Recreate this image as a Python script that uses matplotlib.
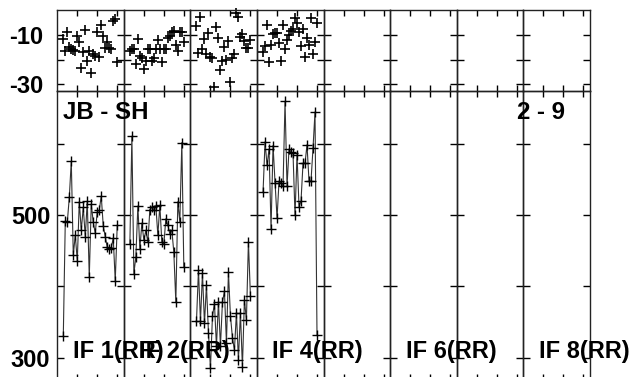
import matplotlib
matplotlib.use("Agg")
import matplotlib.pyplot as plt
import numpy as np

plt.rcParams['font.family'] = ['Liberation Sans', 'DejaVu Sans']

# ---- data ----
channels = list(range(3, 31))  # 28 channels per IF
if_labels = ["IF 1(RR)", "IF 2(RR)", "", "IF 4(RR)", "", "IF 6(RR)", "", "IF 8(RR)"]
baseline_label = "JB - SH"
time_label = "2 - 9"

phase_if1 = [-11.6, -16.4, -8.9, -14.8, -15.8, -16.2, -16.4, -10.3, -13.0, -23.3,
             -17.1, -7.9, -20.5, -16.4, -25.3, -17.8, -18.5, -8.9, -18.9, -5.8,
             -10.3, -15.1, -13.0, -15.1, -15.8, -4.4, -3.4, -21.2]
phase_if2 = [-16.4, -15.8, -15.8, -21.9, -11.6, -18.5, -19.5, -23.7, -20.5, -15.8,
             -15.8, -20.5, -19.2, -15.8, -12.0, -15.8, -21.2, -15.8, -15.8, -11.2,
             -10.3, -8.9, -8.5, -14.0, -16.4, -8.9, -8.9, -13.0]
phase_if3 = [-6.2, -17.5, -2.5, -15.8, -11.6, -17.8, -9.3, -18.9, -19.2, -31.2,
             -6.8, -11.2, -24.4, -20.5, -14.8, -20.3, -12.3, -29.0, -19.2, -17.8,
             -1.1, -2.5, -10.7, -9.6, -12.3, -15.1, -15.1, -12.0]
phase_if4 = [-17.1, -14.4, -5.8, -21.2, -14.0, -9.6, -9.3, -9.3, -13.4, -20.5,
             -5.8, -15.8, -12.0, -9.9, -8.5, -7.5, -3.0, -5.2, -8.9, -14.4,
             -7.5, -18.9, -11.2, -14.0, -3.0, -17.8, -13.0, -5.2]

amp_if1 = [330, 492, 490, 525, 576, 444, 472, 436, 519, 479,
           511, 470, 520, 413, 516, 490, 475, 505, 507, 527,
           485, 470, 455, 453, 454, 468, 408, 486]
amp_if2 = [460, 611, 418, 442, 513, 453, 489, 465, 479, 462,
           508, 511, 508, 513, 472, 514, 462, 459, 495, 486,
           474, 479, 448, 378, 519, 491, 602, 427]
amp_if3 = [351, 423, 351, 419, 348, 402, 335, 285, 358, 376,
           316, 378, 316, 378, 393, 321, 420, 359, 328, 311,
           363, 297, 363, 287, 381, 353, 463, 387]
amp_if4 = [533, 603, 570, 593, 481, 598, 546, 496, 548, 545,
           541, 660, 541, 593, 589, 587, 500, 585, 512, 520,
           573, 573, 599, 548, 548, 594, 645, 332]

phases = [phase_if1, phase_if2, phase_if3, phase_if4, None, None, None, None]
amps = [amp_if1, amp_if2, amp_if3, amp_if4, None, None, None, None]

phase_ticks = [-30, -20, -10]
phase_ticklabels = ["-30", "", "-10"]
amp_ticks = [300, 400, 500, 600]
amp_ticklabels = ["300", "", "500", ""]
x_ticks = [10, 20, 30]

# ---- layout (pixels) ----
W, H = 634, 377
fig = plt.figure(figsize=(W / 100, H / 100), dpi=100)
left_px, right_px = 57.3, 590.0
top_px, mid_px, bot_px = 10.0, 90.7, 380.0
ncol = 8
colw = (right_px - left_px) / ncol

def fx(px):
    return px / W

def fy(py):
    return (H - py) / H

for i in range(ncol):
    x0 = left_px + i * colw
    axt = fig.add_axes([fx(x0), fy(mid_px), colw / W, (mid_px - top_px) / H])
    axb = fig.add_axes([fx(x0), fy(bot_px), colw / W, (bot_px - mid_px) / H])
    for ax in (axt, axb):
        ax.set_xlim(0, 33.33)
        ax.set_xticks(x_ticks)
        ax.set_xticklabels([])
        ax.tick_params(direction='in', top=True, right=True, length=4,
                       width=1, colors='black')
        for s in ax.spines.values():
            s.set_linewidth(1.0)
            s.set_color('#222222')
    axt.set_ylim(-32.7, 0.2)
    axb.set_ylim(268.6, 675)
    axt.set_yticks(phase_ticks)
    axb.set_yticks(amp_ticks)
    axt.tick_params(axis='y', length=5)
    axb.tick_params(axis='y', length=5)
    if i == 0:
        axt.set_yticklabels(phase_ticklabels, fontsize=17, fontweight='bold')
        axb.set_yticklabels(amp_ticklabels, fontsize=17, fontweight='bold')
        axt.tick_params(axis='y', pad=10)
        axb.tick_params(axis='y', pad=5)
    else:
        axt.set_yticklabels([])
        axb.set_yticklabels([])
    if phases[i] is not None:
        axt.plot(channels, phases[i], linestyle='none', marker='+',
                 markersize=7.5, markeredgewidth=1.2, color='black', clip_on=False)
    if amps[i] is not None:
        axb.plot(channels, amps[i], color='#333333', linewidth=0.8,
                 marker='+', markersize=7, markeredgewidth=1.0,
                 markeredgecolor='black')
    axt.patch.set_alpha(0)
    axb.patch.set_alpha(0)

# texts
fig.text(fx(63), fy(119.3), baseline_label, fontsize=17.3, fontweight='bold',
         va='baseline', ha='left')
fig.text(fx(516.7), fy(119.3), time_label, fontsize=17.3, fontweight='bold',
         va='baseline', ha='left')
for i, lab in enumerate(if_labels):
    if lab:
        x0 = left_px + i * colw + 15.3
        fig.text(fx(x0), fy(358.3), lab, fontsize=17, fontweight='bold',
                 va='baseline', ha='left')

fig.savefig("out.png", dpi=100)
